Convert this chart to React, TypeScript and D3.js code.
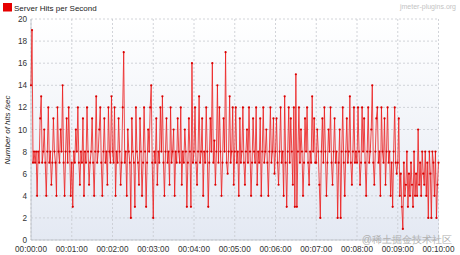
import React from "react";
import * as d3 from "d3";

const seriesName = "Server Hits per Second";
const yTicks = [0, 2, 4, 6, 8, 10, 12, 14, 16, 18, 20];
const xTickSeconds = [0, 60, 120, 180, 240, 300, 360, 420, 480, 540, 600];
const xTickLabels = ["00:00:00", "00:01:00", "00:02:00", "00:03:00", "00:04:00", "00:05:00", "00:06:00", "00:07:00", "00:08:00", "00:09:00", "00:10:00"];
const stepSeconds = 1.5;

const min0 = [14, 19, 7, 8, 7, 8, 4, 8, 7, 11, 13, 7, 8, 10, 7, 4, 8, 12, 7, 8, 5, 7, 11, 8, 7, 4, 12, 8, 7, 10, 8, 14, 7, 4, 8, 11, 7, 12, 8, 4];
const min1 = [7, 3, 8, 7, 10, 8, 12, 7, 5, 8, 7, 11, 4, 8, 7, 12, 8, 5, 7, 8, 11, 7, 4, 8, 13, 7, 8, 10, 12, 7, 4, 8, 11, 7, 8, 5, 12, 8, 7, 13];
const min2 = [8, 7, 12, 4, 8, 7, 11, 8, 5, 7, 12, 17, 7, 8, 4, 10, 8, 7, 2, 11, 8, 7, 3, 12, 8, 7, 5, 11, 8, 4, 7, 12, 8, 3, 7, 10, 8, 12, 14, 7];
const min3 = [2, 8, 7, 11, 5, 8, 7, 12, 8, 13, 7, 4, 8, 11, 7, 8, 5, 12, 7, 8, 10, 4, 8, 7, 11, 8, 7, 12, 5, 8, 7, 10, 8, 3, 7, 11, 8, 3, 16, 7];
const min4 = [8, 12, 7, 5, 8, 13, 7, 8, 11, 4, 8, 7, 12, 8, 3, 7, 11, 8, 16, 7, 9, 5, 8, 14, 7, 12, 8, 4, 7, 11, 8, 17, 7, 6, 8, 13, 7, 8, 12, 5];
const min5 = [8, 12, 7, 8, 4, 11, 7, 8, 12, 7, 5, 8, 10, 7, 12, 8, 4, 7, 11, 8, 7, 12, 5, 8, 7, 11, 4, 8, 12, 7, 8, 10, 7, 4, 8, 12, 7, 8, 11, 6];
const min6 = [8, 11, 7, 5, 8, 12, 7, 8, 4, 13, 7, 3, 8, 12, 7, 11, 8, 5, 12, 3, 15, 3, 8, 12, 7, 10, 8, 4, 7, 11, 8, 12, 7, 5, 8, 7, 13, 8, 11, 7];
const min7 = [7, 10, 8, 5, 2, 8, 11, 7, 12, 8, 4, 7, 10, 8, 12, 7, 5, 8, 11, 7, 8, 2, 7, 10, 2, 8, 12, 7, 4, 8, 11, 7, 8, 13, 7, 5, 8, 12, 7, 8];
const min8 = [7, 12, 8, 5, 7, 12, 8, 11, 7, 4, 8, 12, 7, 8, 10, 14, 7, 5, 8, 11, 12, 7, 8, 4, 12, 8, 7, 11, 5, 8, 12, 7, 8, 4, 7, 3, 8, 12, 7, 6];
const min9 = [7, 11, 4, 6, 3, 1, 7, 4, 5, 8, 3, 6, 4, 7, 5, 3, 8, 4, 6, 4, 10, 5, 7, 4, 8, 6, 5, 8, 4, 7, 2, 8, 6, 2, 8, 7, 4, 8, 2, 5];
const lastValue = [7];

const hits = [...min0, ...min1, ...min2, ...min3, ...min4, ...min5, ...min6, ...min7, ...min8, ...min9, ...lastValue];

export default function App() {
  const W = 460, H = 255;
  const left = 31, right = 438.5, top = 19, bottom = 240;
  const x = d3.scaleLinear().domain([0, 600]).range([left, right]);
  const y = d3.scaleLinear().domain([0, 20]).range([bottom, top]);
  const pts: [number, number][] = hits.map((v, i) => [x(i * stepSeconds), y(v)]);
  const line = d3.line()(pts) || "";
  const font = "'Liberation Sans', Arial, sans-serif";
  return (
    <svg width={W} height={H} style={{ position: "absolute", left: 0, top: 0, background: "#fff" }} fontFamily={font}>
      <defs>
        <linearGradient id="bg" x1="0" y1="0" x2="0" y2="1">
          <stop offset="0" stopColor="#ffffff" />
          <stop offset="1" stopColor="#e4e9f3" />
        </linearGradient>
      </defs>
      <rect x={left} y={top} width={right - left + 0.5} height={bottom - top} fill="url(#bg)" />
      {yTicks.map((t) => (
        <line key={"gy" + t} x1={left} x2={right + 0.5} y1={y(t)} y2={y(t)} stroke="#c6c9cf" strokeWidth={0.8} strokeDasharray="2,2" />
      ))}
      {xTickSeconds.map((t) => (
        <line key={"gx" + t} x1={x(t)} x2={x(t)} y1={top} y2={bottom} stroke="#c6c9cf" strokeWidth={0.8} strokeDasharray="2,2" />
      ))}
      <line x1={left} x2={left} y1={top} y2={bottom} stroke="#b8bcc4" strokeWidth={0.8} />
      <line x1={left} x2={right + 0.5} y1={bottom} y2={bottom} stroke="#b8bcc4" strokeWidth={0.8} />
      {yTicks.map((t) => (
        <text key={"ty" + t} x={27} y={y(t) + 3} fontSize={8.2} textAnchor="end" fill="#333">{t}</text>
      ))}
      {xTickSeconds.map((t, i) => (
        <text key={"tx" + t} x={x(t)} y={251.5} fontSize={8.2} textAnchor="middle" fill="#333">{xTickLabels[i]}</text>
      ))}
      <text transform={`translate(10,130) rotate(-90)`} fontSize={8} fontStyle="italic" textAnchor="middle" fill="#222">Number of hits /sec</text>
      <path d={line} fill="none" stroke="#ec1c1c" strokeWidth={0.9} strokeOpacity={0.9} />
      {pts.map((p, i) => (
        <circle key={i} cx={p[0]} cy={p[1]} r={1.1} fill="#d80000" />
      ))}
      <rect x={3} y={3} width={9} height={8.5} fill="#e60000" />
      <text x={14} y={10.5} fontSize={8} fill="#222">{seriesName}</text>
      <text x={456} y={9} fontSize={7} textAnchor="end" fill="#c4c4c4">jmeter-plugins.org</text>
      <text x={452} y={243} fontSize={10} textAnchor="end" fill="#b0b0b0">@稀土掘金技术社区</text>
    </svg>
  );
}
